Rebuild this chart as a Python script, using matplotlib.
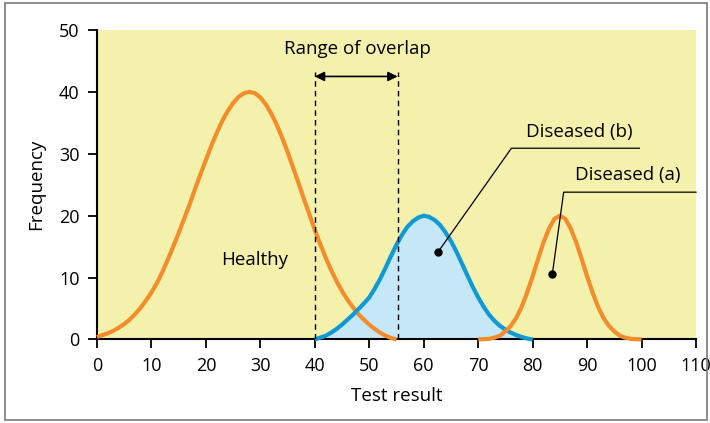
import matplotlib.pyplot as plt
from matplotlib.patches import Rectangle

plt.rcParams['font.family'] = ['Open Sans', 'DejaVu Sans']

# values (test result -> frequency), one per unit
healthy_x = list(range(0, 56))
healthy_y = [0.4, 0.7, 1.0, 1.4, 1.9, 2.5, 3.2, 4.1, 5.1, 6.3,
             7.6, 9.1, 10.9, 12.9, 15.0, 17.2, 19.5, 21.8, 24.3, 26.7,
             29.0, 31.3, 33.4, 35.3, 36.9, 38.2, 39.2, 39.8, 40.0, 39.8,
             39.1, 38.0, 36.5, 34.7, 32.6, 30.3, 27.8, 25.3, 22.7, 20.2,
             17.7, 15.4, 13.2, 11.2, 9.4, 7.8, 6.4, 5.2, 4.1, 3.2,
             2.4, 1.7, 1.1, 0.6, 0.25, 0.0]

dis_b_x = list(range(40, 81))
dis_b_y = [0.0, 0.3, 0.6, 1.1, 1.7, 2.4, 3.2, 4.0, 4.9, 5.8,
           6.8, 8.2, 9.8, 11.6, 13.5, 15.3, 16.9, 18.2, 19.1, 19.7,
           20.0, 19.8, 19.3, 18.5, 17.3, 15.9, 14.2, 12.3, 10.4, 8.5,
           6.8, 5.3, 4.0, 3.0, 2.2, 1.6, 1.1, 0.7, 0.4, 0.15, 0.0]

dis_a_x = list(range(70, 101))
dis_a_y = [0.0, 0.05, 0.1, 0.3, 0.6, 1.3, 2.2, 3.5, 5.3, 7.6,
           10.2, 13.0, 15.7, 17.9, 19.5, 20.0, 19.5, 17.9, 15.7, 13.0,
           10.2, 7.6, 5.3, 3.5, 2.2, 1.3, 0.6, 0.3, 0.1, 0.05, 0.0]

x_ticks = [0, 10, 20, 30, 40, 50, 60, 70, 80, 90, 100, 110]
y_ticks = [0, 10, 20, 30, 40, 50]

orange = '#f38d2c'
blue = '#0f9ad6'
fs = 13.5

fig = plt.figure(figsize=(7.1, 4.23), dpi=100)
fig.patches.append(Rectangle((0.007, 0.007), 0.989, 0.986, transform=fig.transFigure,
                             fill=False, edgecolor='#7a7a7a', linewidth=1.2))
ax = fig.add_axes([0.1366, 0.1975, 0.8437, 0.7315])
ax.set_facecolor('#f3f1ab')

ax.fill_between(dis_b_x, dis_b_y, 0, color='#c6e7f7', zorder=1)
for xs, ys, c in [(healthy_x, healthy_y, orange), (dis_b_x, dis_b_y, blue),
                  (dis_a_x, dis_a_y, orange)]:
    ax.plot(xs, ys, color=c, lw=3, zorder=3, clip_on=False,
            solid_capstyle='butt', solid_joinstyle='round')

# range of overlap
for xv in [40, 55.2]:
    ax.plot([xv, xv], [0, 43.2], color='black', lw=1, ls=(0, (4, 3)), zorder=4)
ax.annotate('', xy=(40, 42.5), xytext=(55.2, 42.5),
            arrowprops=dict(arrowstyle='<|-|>', color='black', lw=1.2,
                            mutation_scale=14, shrinkA=0, shrinkB=0))
ax.text(47.9, 47, 'Range of overlap', ha='center', va='center', fontsize=fs)

ax.text(29, 12.8, 'Healthy', ha='center', va='center', fontsize=fs)

# diseased (b) leader
ax.plot([62.6, 76.1, 99.6], [14.1, 30.9, 30.9], color='black', lw=0.9, zorder=5)
ax.plot([62.6], [14.1], 'o', color='black', ms=5, zorder=5)
ax.text(88.6, 33.6, 'Diseased (b)', ha='center', va='center', fontsize=fs)

# diseased (a) leader
ax.plot([83.6, 85.7, 110], [10.5, 23.8, 23.8], color='black', lw=0.9, zorder=5,
        clip_on=False)
ax.plot([83.6], [10.5], 'o', color='black', ms=5, zorder=5)
ax.text(97.4, 26.5, 'Diseased (a)', ha='center', va='center', fontsize=fs)

ax.set_xlim(0, 110)
ax.set_ylim(0, 50)
ax.set_xticks(x_ticks)
ax.set_yticks(y_ticks)
ax.tick_params(labelsize=13, length=6.5, width=1.3, direction='out', pad=6)
for s in ['top', 'right']:
    ax.spines[s].set_visible(False)
for s in ['left', 'bottom']:
    ax.spines[s].set_linewidth(1.5)
ax.set_xlabel('Test result', fontsize=fs, labelpad=9)
ax.set_ylabel('Frequency', fontsize=fs, labelpad=10)

plt.savefig('out.png', dpi=100)
